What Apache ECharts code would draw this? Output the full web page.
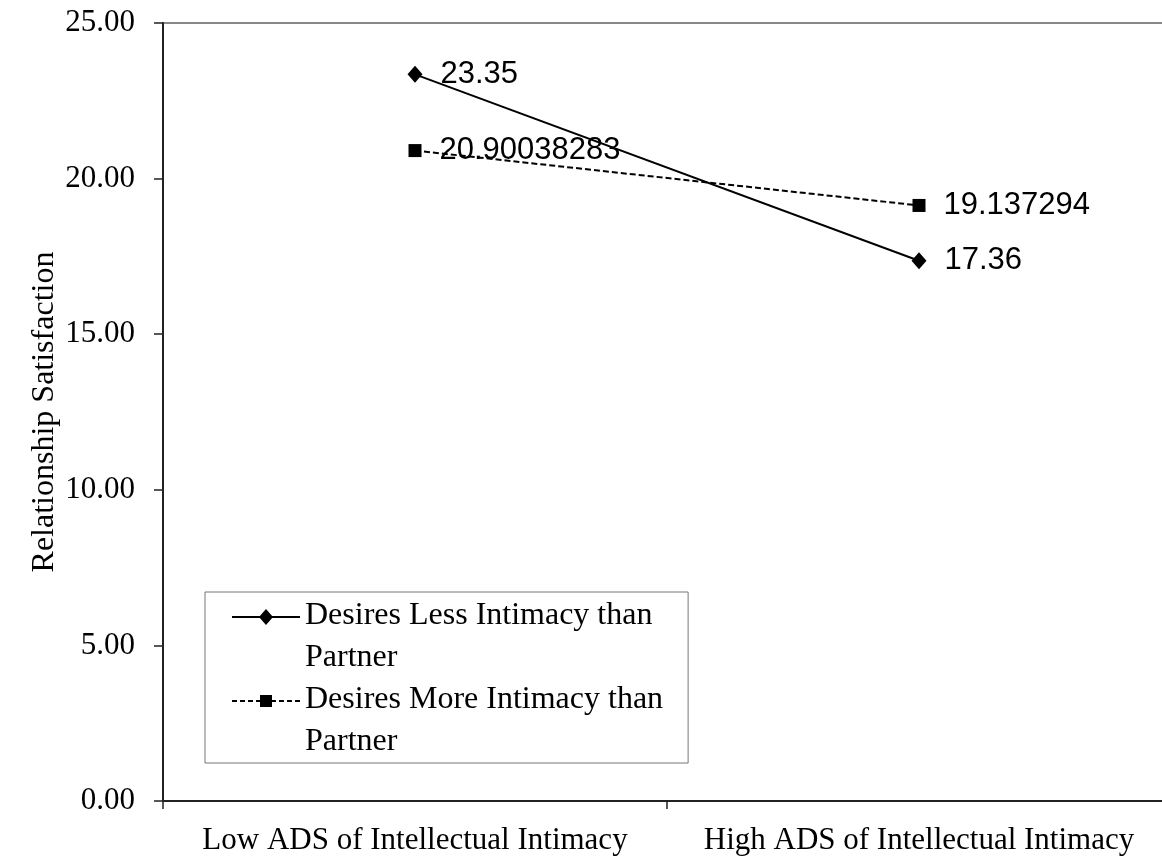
<!DOCTYPE html>
<html><head><meta charset="utf-8">
<script src="https://cdn.jsdelivr.net/npm/echarts@6/dist/echarts.min.js"></script>
<style>html,body{margin:0;padding:0;background:#fff}#c{width:1162px;height:857px}</style>
</head><body><div id="c"></div>
<script>
const categories = ['Low ADS of Intellectual Intimacy', 'High ADS of Intellectual Intimacy'];
const lessIntimacy = [23.35, 17.36];
const moreIntimacy = [20.90038283, 19.137294];
const seriesNames = ['Desires Less Intimacy than Partner', 'Desires More Intimacy than Partner'];
const legendLabels = ['Desires Less Intimacy than\nPartner', 'Desires More Intimacy than\nPartner'];
const yAxisName = 'Relationship Satisfaction';
const yMin = 0, yMax = 25, yStep = 5;

const serif = 'Liberation Serif, Times New Roman, serif';
const sans = 'Liberation Sans, Arial, sans-serif';

// legend icons: line + marker drawn in the upper part of a tall icon box (aligned with first text line)
const bboxPts = 'M0 0 L0.01 0 Z M68 84 L67.99 84 Z ';
const iconSolid = 'path://' + bboxPts + 'M0 21 L68 21 L68 23 L0 23 Z M34 14 L41 22 L34 30 L27 22 Z';
const iconDashed = 'path://' + bboxPts +
  'M0 21 L5 21 L5 23 L0 23 Z M8 21 L13 21 L13 23 L8 23 Z M16 21 L21 21 L21 23 L16 23 Z M24 21 L28 21 L28 23 L24 23 Z ' +
  'M28 16 L40 16 L40 28 L28 28 Z ' +
  'M40 21 L44 21 L44 23 L40 23 Z M47 21 L52 21 L52 23 L47 23 Z M55 21 L60 21 L60 23 L55 23 Z M63 21 L68 21 L68 23 L63 23 Z';

const chart = echarts.init(document.getElementById('c'), null, {renderer: 'canvas'});
const labelCfg = {
  show: true, position: 'right', distance: 18,
  fontFamily: sans, fontSize: 31, color: '#000',
  formatter: p => String(p.value)
};
chart.setOption({
  animation: false,
  backgroundColor: '#fff',
  grid: {left: 163, top: 23, width: 1008, height: 778, show: true, borderColor: '#888', borderWidth: 2,
         backgroundColor: 'transparent', outerBoundsMode: 'none', containLabel: false},
  legend: {
    orient: 'vertical', left: 205, top: 592,
    padding: [3, 25, 0, 27],
    itemGap: 0, itemWidth: 68, itemHeight: 84,
    borderColor: '#777', borderWidth: 1, backgroundColor: '#fff',
    selectedMode: false,
    itemStyle: {borderWidth: 0},
    data: [
      {name: seriesNames[0], icon: iconSolid},
      {name: seriesNames[1], icon: iconDashed}
    ],
    formatter: name => legendLabels[seriesNames.indexOf(name)],
    textStyle: {fontFamily: serif, fontSize: 32, color: '#000', lineHeight: 42}
  },
  xAxis: {
    type: 'category', data: categories, boundaryGap: true,
    axisLine: {lineStyle: {color: '#222', width: 2}},
    axisTick: {show: true, length: 8, lineStyle: {color: '#222', width: 1.5}},
    axisLabel: {interval: 0, margin: 24, fontFamily: serif, fontSize: 31, color: '#000'}
  },
  yAxis: {
    type: 'value', min: yMin, max: yMax, interval: yStep,
    name: yAxisName, nameLocation: 'middle', nameGap: 102, nameMoveOverlap: false,
    nameTextStyle: {fontFamily: serif, fontSize: 32, color: '#000'},
    axisLine: {show: true, lineStyle: {color: '#222', width: 2}},
    axisTick: {show: true, length: 9, lineStyle: {color: '#222', width: 1.5}},
    splitLine: {show: false},
    axisLabel: {margin: 28, fontFamily: serif, fontSize: 31, color: '#000', formatter: v => v.toFixed(2)}
  },
  series: [
    {
      name: seriesNames[0], type: 'line', data: lessIntimacy,
      symbol: 'diamond', symbolSize: [15, 17],
      lineStyle: {color: '#000', width: 2, type: 'solid'},
      itemStyle: {color: '#000'},
      label: labelCfg, z: 3
    },
    {
      name: seriesNames[1], type: 'line', data: moreIntimacy,
      symbol: 'rect', symbolSize: 13,
      lineStyle: {color: '#000', width: 2, type: [6, 3]},
      itemStyle: {color: '#000'},
      label: labelCfg, z: 2
    }
  ]
});
</script></body></html>
